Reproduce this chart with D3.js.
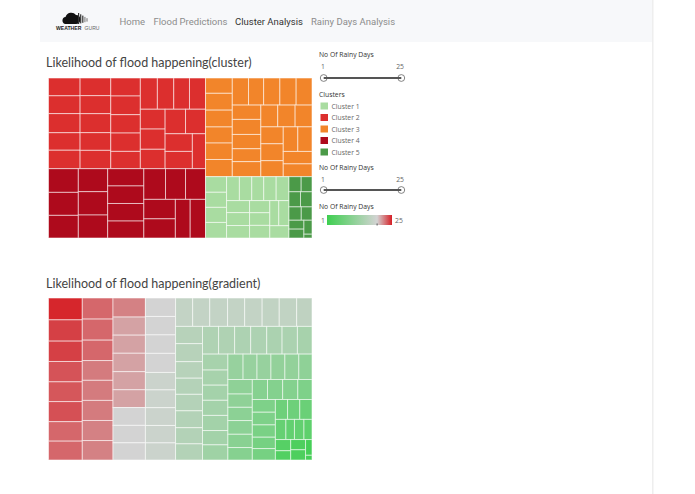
<!DOCTYPE html>
<html>
<head>
<meta charset="utf-8">
<script src="https://cdn.jsdelivr.net/npm/d3@7"></script>
<style>
html, body { margin: 0; padding: 0; background: #fff; }
svg { display: block; }
</style>
</head>
<body>
<div class="display"></div>
<script>
// nested lists: each level of nesting turns the split direction by 90 degrees
var cluster1 = [[32, 31, 31, 32],
  [[30, 29, 28, 29, 30],
   [[27, 29, 28], [24, 25, 25], [[22, 25], 23]]]];
var cluster2 = [[55, 55, 59, 54, 57], [53, 54, 57, 53, 55], [52, 54, 53, 53, 50],
  [[52, 50, 48, 49],
   [[48, 49, 47],
    [[49, 48],
     [[47, 46], 45]]]]];
var cluster3 = [[40, 44, 44, 42, 43, 45],
  [[43, 40, 43, 43, 42],
   [[40, 42, 40, 36, 42],
    [[36, 37, 36],
     [[37, 37, 35],
      [[35, 34], [[35, 36]]]]]]]];
var cluster4 = [[69, 67, 66], [66, 67, 66], [61, 62, 62, 60],
  [[65, 60, 60],
   [[60, 59], 56, 58]]];
var cluster5 = [[18, 16], [17, 17], [16, 14], [[13, 13], [11, 3]]];

var clusterNames = ["Cluster 1", "Cluster 2", "Cluster 3", "Cluster 4", "Cluster 5"];
var clusterColors = ["#a9dca1", "#dc2f2e", "#f2852a", "#ae0a1c", "#4b9a48"];
var clusterLists = [cluster1, cluster2, cluster3, cluster4, cluster5];

var gradientSizes = [
  [73, 71, 68, 68, 66, 67, 65, 63],
  [64, 64, 62, 60, 61, 61, 61, 59],
  [61, 58, 58, 59, 58, 57, 57, 56, 55],
  [55, 55, 55, 57, 52, 53, 53, 52, 51],
  [[48, 48, 50, 48, 49, 48, 49, 43],
   [[46, 48, 44, 43, 44, 45, 43, 43],
    [[44, 44, 44, 44, 42, 42, 40],
     [[40, 38, 38, 38, 38, 36, 38],
      [[38, 35, 35, 35, 35, 33],
       [[35, 32, 32, 33, 32, 30],
        [[30, 30, 30, 28],
         [[29, 29, 28, 26, 26],
          [[24, 24, 24],
           [[[21, 17, 19, 16],
             [[17, 14], [15, 15], [10, 3]]]]]]]]]]]]]];

// rainy days behind each gradient cell, same order as the cells above
var gradientDays = [
  24.8, 24, 24, 23.4, 23.3, 23.5, 22.8, 22.8,
  22.8, 22.8, 22.8, 22.2, 22.2, 22.2, 22, 22,
  22, 21, 21, 21, 21, 21, 19.5, 19.5, 19.5,
  19.5, 19.5, 19.5, 19.5, 18.5, 18.5, 18.5, 18.5, 18.5,
  17.5, 17.5, 17.5, 17.5, 17.5, 17.3, 17.3, 17,
  16, 16, 16, 15.7, 15.7, 15.5, 15.5, 15.5,
  15, 15, 14.8, 14.8, 14.5, 14.5, 14,
  14, 14, 13.7, 13.7, 13.5, 13.5, 13,
  12, 12, 12, 11.5, 11.5, 11,
  11, 11, 10.7, 10.7, 10.3, 10,
  10, 9.7, 9.7, 9,
  9, 9, 8.5, 8, 8,
  7, 7, 6.5,
  6, 5.5, 5.5, 5,
  4, 3.5, 3, 3, 2, 2];

var navLabels = ["Home", "Flood Predictions", "Cluster Analysis", "Rainy Days Analysis"];
var navStarts = [119.5, 153.5, 235, 311];
var activeNav = "Cluster Analysis";
var daysRange = [1, 25];
var greyDay = 19.5;

var svg = d3.select(".display")
  .append("svg")
  .attr("width", 695)
  .attr("height", 494);

svg.append("rect").attr("x", 40).attr("y", 0).attr("width", 612).attr("height", 42).attr("fill", "#f7f8fa");
svg.append("rect").attr("x", 652).attr("y", 0).attr("width", 1.5).attr("height", 494).attr("fill", "#eeeeee");

// logo
var logo = svg.append("g");
logo.append("path")
  .attr("d", "M65 24 a3.6 3.6 0 0 1 0.5 -7 a6 6 0 0 1 10.5 -2 a4.5 4.5 0 0 1 0 9 z")
  .attr("fill", "#111");
d3.range(5).forEach(function(i) {
  logo.append("rect")
    .attr("x", 78 + i * 2.1)
    .attr("y", 13 + i * 1.3)
    .attr("width", 1.2)
    .attr("height", 11 - i * 1.9)
    .attr("fill", i < 3 ? "#333" : "#888");
});
logo.append("text").attr("x", 56).attr("y", 30).attr("font-family", "Liberation Sans")
  .attr("font-size", 5.1).attr("font-weight", "bold").attr("fill", "#222").text("WEATHER");
logo.append("text").attr("x", 84.5).attr("y", 30).attr("font-family", "Liberation Sans")
  .attr("font-size", 5.1).attr("fill", "#666").text("GURU");

svg.selectAll(".nav")
  .data(navLabels)
  .enter().append("text")
  .attr("class", "nav")
  .attr("x", function(d, i) { return navStarts[i]; })
  .attr("y", 25)
  .attr("font-family", "Roboto")
  .attr("font-size", 9.5)
  .attr("fill", function(d) { return d === activeNav ? "#333" : "#8c8c8c"; })
  .text(function(d) { return d; });

function addTitle(label, y) {
  svg.append("text")
    .attr("x", 46)
    .attr("y", y)
    .attr("font-family", "Lato")
    .attr("font-size", 12.5)
    .attr("fill", "#444")
    .text(label);
}
addTitle("Likelihood of flood happening(cluster)", 66.5);
addTitle("Likelihood of flood happening(gradient)", 287.5);

// even depth splits left to right, odd depth splits top to bottom
function tile(node, x0, y0, x1, y1) {
  if (node.depth % 2 === 0) d3.treemapDice(node, x0, y0, x1, y1);
  else d3.treemapSlice(node, x0, y0, x1, y1);
}

function buildTree(list, x0, y0, x1, y1) {
  var root = d3.hierarchy(list, function(d) { return Array.isArray(d) ? d : null; })
    .sum(function(d) { return Array.isArray(d) ? 0 : d; });
  return d3.treemap().tile(tile).size([x1 - x0, y1 - y0]).round(false)(root);
}

function drawCells(leaves, x0, y0, fill) {
  svg.append("g")
    .attr("transform", "translate(" + x0 + "," + y0 + ")")
    .selectAll("rect")
    .data(leaves)
    .enter().append("rect")
    .attr("x", function(d) { return d.x0; })
    .attr("y", function(d) { return d.y0; })
    .attr("width", function(d) { return d.x1 - d.x0; })
    .attr("height", function(d) { return d.y1 - d.y0; })
    .attr("fill", fill)
    .attr("stroke", "#fff")
    .attr("stroke-opacity", 0.55)
    .attr("stroke-width", 1);
}

var clusterRoot = buildTree([[cluster2, cluster4], [cluster3, [[cluster1], cluster5]]], 48.5, 78, 312, 238);
drawCells(clusterRoot.leaves(), 48.5, 78, function(d) {
  var owner = d.ancestors().find(function(a) { return clusterLists.indexOf(a.data) >= 0; });
  return clusterColors[clusterLists.indexOf(owner.data)];
});

var dayColor = d3.scaleLinear()
  .domain([daysRange[0], greyDay, daysRange[1]])
  .range(["#3ecf50", "#d3d3d3", "#d61f26"]);
var gradientRoot = buildTree(gradientSizes, 48.5, 298, 312, 460);
var gradientLeaves = gradientRoot.leaves();
drawCells(gradientLeaves, 48.5, 298, function(d) {
  return dayColor(gradientDays[gradientLeaves.indexOf(d)]);
});

// side controls
function smallText(label, x, y, color, anchor) {
  svg.append("text")
    .attr("x", x)
    .attr("y", y)
    .attr("font-family", "Open Sans")
    .attr("font-size", 6.8)
    .attr("text-anchor", anchor || "start")
    .attr("fill", color)
    .text(label);
}

var sliderScale = d3.scaleLinear().domain(daysRange).range([323.7, 401.3]);

function addSlider(titleY, trackY) {
  smallText("No Of Rainy Days", 319, titleY, "#333");
  daysRange.forEach(function(d, i) {
    smallText(d, i ? 404 : 321, titleY + 12, "#666", i ? "end" : "start");
  });
  svg.selectAll(null)
    .data(daysRange)
    .enter().append("circle")
    .attr("cx", function(d) { return sliderScale(d); })
    .attr("cy", trackY)
    .attr("r", 3.4)
    .attr("fill", "#fff")
    .attr("stroke", "#666")
    .attr("stroke-width", 0.8);
  svg.append("line")
    .attr("x1", sliderScale(daysRange[0]))
    .attr("x2", sliderScale(daysRange[1]))
    .attr("y1", trackY)
    .attr("y2", trackY)
    .attr("stroke", "#555")
    .attr("stroke-width", 2);
}

addSlider(57, 78);
addSlider(169.5, 190);

smallText("Clusters", 319, 97, "#333");
var legendY = d3.scalePoint().domain(clusterNames).range([106, 152]);
clusterNames.forEach(function(name, i) {
  svg.append("rect")
    .attr("x", 320.5)
    .attr("y", legendY(name) - 3.5)
    .attr("width", 7.5)
    .attr("height", 7)
    .attr("fill", clusterColors[i]);
  smallText(name, 331.5, legendY(name) + 2.5, "#666");
});

smallText("No Of Rainy Days", 319, 209, "#333");
var legendScale = d3.scaleLinear().domain(daysRange).range([327, 392]);
var defs = svg.append("defs");
var grad = defs.append("linearGradient").attr("id", "days-gradient");
[daysRange[0], greyDay, daysRange[1]].forEach(function(d) {
  grad.append("stop")
    .attr("offset", (legendScale(d) - 327) / 65)
    .attr("stop-color", dayColor(d));
});
svg.append("rect")
  .attr("x", legendScale(daysRange[0]))
  .attr("y", 215)
  .attr("width", legendScale(daysRange[1]) - legendScale(daysRange[0]))
  .attr("height", 10)
  .attr("fill", "url(#days-gradient)");
svg.append("line")
  .attr("x1", legendScale(greyDay))
  .attr("x2", legendScale(greyDay))
  .attr("y1", 223.5)
  .attr("y2", 225.5)
  .attr("stroke", "#333")
  .attr("stroke-width", 0.8);
smallText(daysRange[0], 321, 222.5, "#666");
smallText(daysRange[1], 395, 222.5, "#666");
</script>
</body>
</html>
